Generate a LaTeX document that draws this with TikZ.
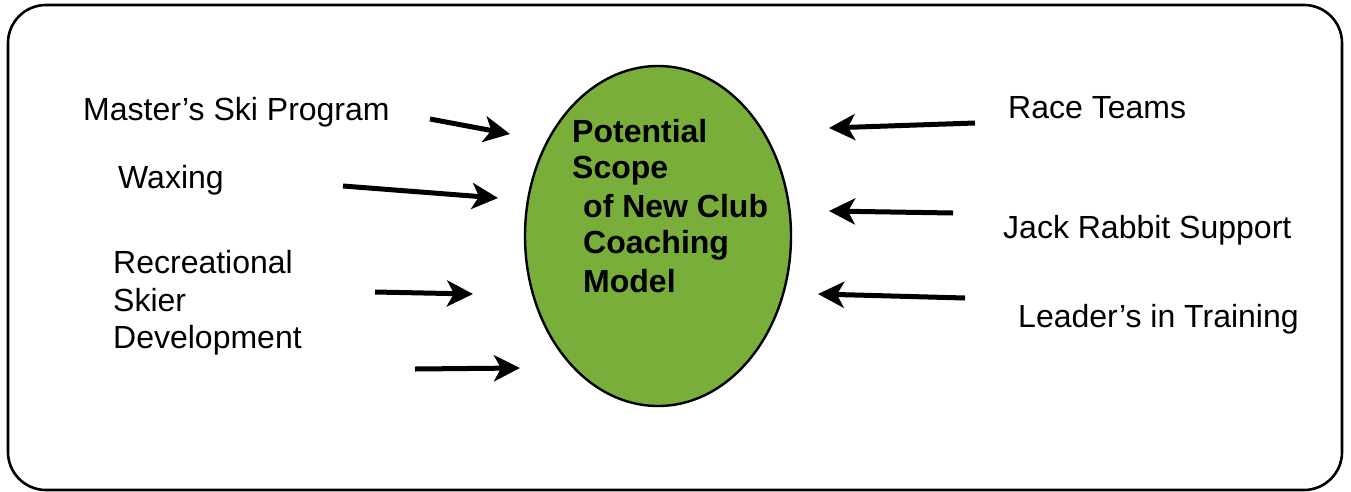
\documentclass[tikz,border=0pt]{standalone}
\usepackage{fontspec}
\setmainfont{Liberation Sans}
\usetikzlibrary{arrows.meta,shapes.geometric}
\definecolor{scopegreen}{RGB}{122,174,58}
\begin{document}
\begin{tikzpicture}[x=1pt,y=-1pt,
  lbl/.style={anchor=base west,inner sep=0pt,font=\fontsize{32}{37.5}\selectfont},
  blbl/.style={anchor=base west,inner sep=0pt,font=\fontsize{32}{37.5}\selectfont\bfseries},
  arr/.style={line width=5pt,-{Stealth[length=26pt,width=26pt,inset=7pt]}}]
\useasboundingbox (0,0) rectangle (1351,491);
\draw[line width=2.6pt,rounded corners=38pt] (8,5) rectangle (1342,490);
\node[draw,line width=2.4pt,fill=scopegreen,ellipse,minimum width=266pt,minimum height=340pt,inner sep=0pt] (ell) at (658,236) {};
\node[blbl] (t1) at (572,142) {Potential};
\node[blbl] (t2) at (572,178) {Scope};
\node[blbl] (t3) at (583,217) {of New Club};
\node[blbl] (t4) at (583,253) {Coaching};
\node[blbl] (t5) at (583,292) {Model};
\node[lbl] (msp) at (83,120) {Master’s Ski Program};
\node[lbl] (wax) at (118,188) {Waxing};
\node[lbl] (rec1) at (113,273) {Recreational};
\node[lbl] (rec2) at (113,311) {Skier};
\node[lbl] (rec3) at (113,348) {Development};
\node[lbl] (race) at (1008,118) {Race Teams};
\node[lbl] (jack) at (1003,238) {Jack Rabbit Support};
\node[lbl] (lead) at (1018,327) {Leader’s in Training};
\coordinate (a1s) at (430,119); \coordinate (a1e) at (510,134);
\coordinate (a2s) at (343,186); \coordinate (a2e) at (498,198);
\coordinate (a3s) at (375,292); \coordinate (a3e) at (473,294);
\coordinate (a4s) at (415,369); \coordinate (a4e) at (520,368);
\coordinate (b1s) at (975,123); \coordinate (b1e) at (829,128);
\coordinate (b2s) at (953,213); \coordinate (b2e) at (829,211);
\coordinate (b3s) at (965,298); \coordinate (b3e) at (818,294);
\draw[arr] (a1s) -- (a1e);
\draw[arr] (a2s) -- (a2e);
\draw[arr] (a3s) -- (a3e);
\draw[arr] (a4s) -- (a4e);
\draw[arr] (b1s) -- (b1e);
\draw[arr] (b2s) -- (b2e);
\draw[arr] (b3s) -- (b3e);
\end{tikzpicture}
\end{document}
